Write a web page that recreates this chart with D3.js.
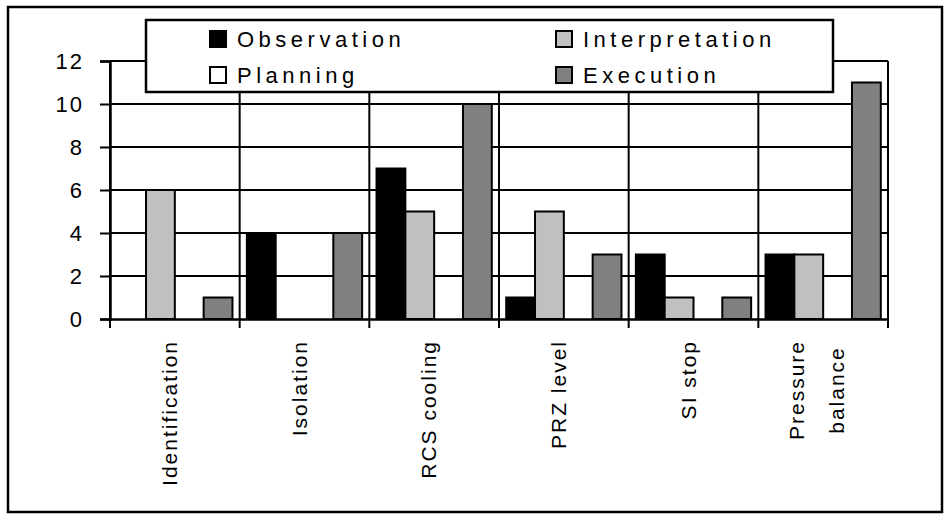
<!DOCTYPE html>
<html>
<head>
<meta charset="utf-8">
<script src="https://cdn.jsdelivr.net/npm/d3@7"></script>
<style>
  html, body { margin: 0; padding: 0; background: #fff; }
  svg { display: block; }
  text { font-family: "Liberation Sans", Arial, sans-serif; fill: #000; }
</style>
</head>
<body>
<svg id="chart" width="950" height="520"></svg>
<script>
const categories = ["Identification", "Isolation", "RCS cooling", "PRZ level", "SI stop", "Pressure\nbalance"];
const series = ["Observation", "Interpretation", "Planning", "Execution"];
const observation    = [0, 4, 7, 1, 3, 3];
const interpretation = [6, 0, 5, 5, 1, 3];
const planning       = [0, 0, 0, 0, 0, 0];
const execution      = [1, 4, 10, 3, 1, 11];
const yTicks = [0, 2, 4, 6, 8, 10, 12];
const colors = ["#000000", "#c0c0c0", "#ffffff", "#808080"];

const values = [observation, interpretation, planning, execution];
const table = categories.map((c, i) => ({ cat: c, vals: series.map((s, j) => ({ key: s, val: values[j][i], color: colors[j] })) }));

const svg = d3.select("#chart");
const pLeft = 110, pRight = 888, pTop = 61, pBottom = 319;

// outer frame
svg.append("rect").attr("x", 8).attr("y", 7).attr("width", 934).attr("height", 505)
  .attr("fill", "#fff").attr("stroke", "#000").attr("stroke-width", 2.5);

const x0 = d3.scaleBand().domain(categories).range([pLeft, pRight]).padding(0);
const x1 = d3.scaleBand().domain(series).range([0, x0.bandwidth()]).paddingInner(0).paddingOuter(0.25);
const y = d3.scaleLinear().domain([0, 12]).range([pBottom, pTop]);

// horizontal gridlines
svg.append("g").selectAll("line").data(yTicks.filter(d => d > 0)).join("line")
  .attr("x1", pLeft).attr("x2", pRight).attr("y1", d => y(d)).attr("y2", d => y(d))
  .attr("stroke", "#000").attr("stroke-width", 2);

// vertical category gridlines
const bounds = categories.map(c => x0(c)).concat([x0(categories[categories.length - 1]) + x0.bandwidth()]);
svg.append("g").selectAll("line").data(bounds).join("line")
  .attr("x1", d => d).attr("x2", d => d).attr("y1", y(12)).attr("y2", y(0))
  .attr("stroke", "#000").attr("stroke-width", 2);

// bars
const groups = svg.append("g").selectAll("g").data(table).join("g")
  .attr("transform", d => `translate(${x0(d.cat)},0)`);
groups.selectAll("rect").data(d => d.vals.filter(v => v.val > 0)).join("rect")
  .attr("x", d => x1(d.key)).attr("width", x1.bandwidth())
  .attr("y", d => y(d.val)).attr("height", d => y(0) - y(d.val))
  .attr("fill", d => d.color).attr("stroke", "#000").attr("stroke-width", 2);

// y axis
const yAxis = svg.append("g").attr("transform", `translate(${pLeft},0)`)
  .call(d3.axisLeft(y).tickValues(yTicks).tickSize(10).tickPadding(16).tickFormat(d3.format("d")));
yAxis.select(".domain").attr("stroke", "#000").attr("stroke-width", 2.5);
yAxis.selectAll(".tick line").attr("stroke", "#000").attr("stroke-width", 2);
yAxis.selectAll(".tick text").attr("font-size", 22).style("letter-spacing", "2px")
  .attr("font-family", "Liberation Sans, Arial, sans-serif").attr("fill", "#000");

// x axis
const xAxis = svg.append("g").attr("transform", `translate(0,${pBottom})`)
  .call(d3.axisBottom(x0).tickSize(0).tickFormat(""));
xAxis.select(".domain").attr("stroke", "#000").attr("stroke-width", 2.5);
xAxis.selectAll(".tick").remove();
xAxis.selectAll("line.bt").data(bounds).join("line").attr("class", "bt")
  .attr("x1", d => d).attr("x2", d => d).attr("y1", 0).attr("y2", 9)
  .attr("stroke", "#000").attr("stroke-width", 2);

// category labels (rotated)
const labelTop = 340;
table.forEach(d => {
  const lines = d.cat.split("\n");
  const cx = x0(d.cat) + x0.bandwidth() / 2;
  const g = svg.append("g").attr("transform", `translate(${cx},${labelTop}) rotate(-90)`);
  const texts = lines.map(l => g.append("text").text(l).attr("font-size", 21).style("letter-spacing", "2px"));
  if (lines.length === 1) {
    texts[0].attr("text-anchor", "end").attr("x", 0).attr("y", 2);
  } else {
    const w = d3.max(texts, t => t.node().getComputedTextLength());
    texts.forEach((t, i) => t.attr("text-anchor", "middle").attr("x", -w / 2).attr("y", -19 + i * 40));
  }
});

// legend
const lg = svg.append("g");
lg.append("rect").attr("x", 146).attr("y", 20).attr("width", 687).attr("height", 72)
  .attr("fill", "#fff").attr("stroke", "#000").attr("stroke-width", 2.5);
const legendPos = [[210, 31], [556, 31], [210, 67], [556, 67]];
series.forEach((s, i) => {
  const [lx, ly] = legendPos[i];
  lg.append("rect").attr("x", lx).attr("y", ly).attr("width", 16).attr("height", 16)
    .attr("fill", colors[i]).attr("stroke", "#000").attr("stroke-width", 2);
  lg.append("text").attr("x", lx + 27).attr("y", ly + 16).attr("font-size", 22)
    .style("letter-spacing", "4.5px").text(s);
});
</script>
</body>
</html>
